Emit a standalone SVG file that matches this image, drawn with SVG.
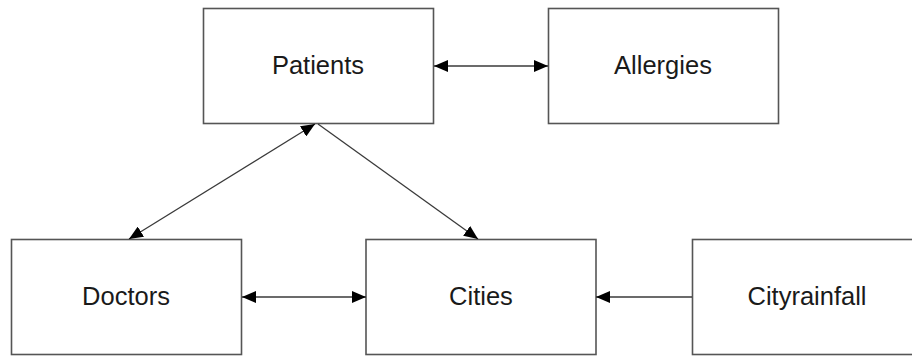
<svg xmlns="http://www.w3.org/2000/svg" width="912" height="356" viewBox="0 0 912 356">
<style>
.box{fill:#fff;stroke:#555;stroke-width:1.6}
.lbl{font-family:"Liberation Sans",Arial,sans-serif;font-size:25.5px;fill:#1a1a1a;text-anchor:middle}
.con{fill:none;stroke:#3a3a3a;stroke-width:1.3}
</style>
<defs>
<marker id="ah" markerUnits="userSpaceOnUse" markerWidth="14" markerHeight="12" refX="14" refY="6" orient="auto-start-reverse" viewBox="0 0 14 12">
<path d="M0,0 L14,6 L0,12 z" fill="#000"/>
</marker>
</defs>
<rect width="912" height="356" fill="#fff"/>
<g id="patients"><rect class="box" x="203.5" y="8.5" width="230" height="115"/><text class="lbl" x="318" y="73.5">Patients</text></g>
<g id="allergies"><rect class="box" x="548.5" y="8.5" width="230" height="115"/><text class="lbl" x="663" y="73.5">Allergies</text></g>
<g id="doctors"><rect class="box" x="11.5" y="239.5" width="230" height="115"/><text class="lbl" x="126" y="304.5">Doctors</text></g>
<g id="cities"><rect class="box" x="366" y="239.5" width="230" height="115"/><text class="lbl" x="481" y="304.5">Cities</text></g>
<g id="cityrainfall"><rect class="box" x="692.5" y="239.5" width="230" height="115"/><text class="lbl" x="807" y="304.5">Cityrainfall</text></g>
<g id="connectors">
<line class="con" x1="434" y1="66" x2="548" y2="66" marker-start="url(#ah)" marker-end="url(#ah)"/>
<line class="con" x1="242" y1="297" x2="366" y2="297" marker-start="url(#ah)" marker-end="url(#ah)"/>
<line class="con" x1="692" y1="297" x2="596" y2="297" marker-end="url(#ah)"/>
<line class="con" x1="315" y1="124" x2="129" y2="239" marker-start="url(#ah)" marker-end="url(#ah)"/>
<line class="con" x1="318" y1="124" x2="478" y2="239" marker-end="url(#ah)"/>
</g>
</svg>
